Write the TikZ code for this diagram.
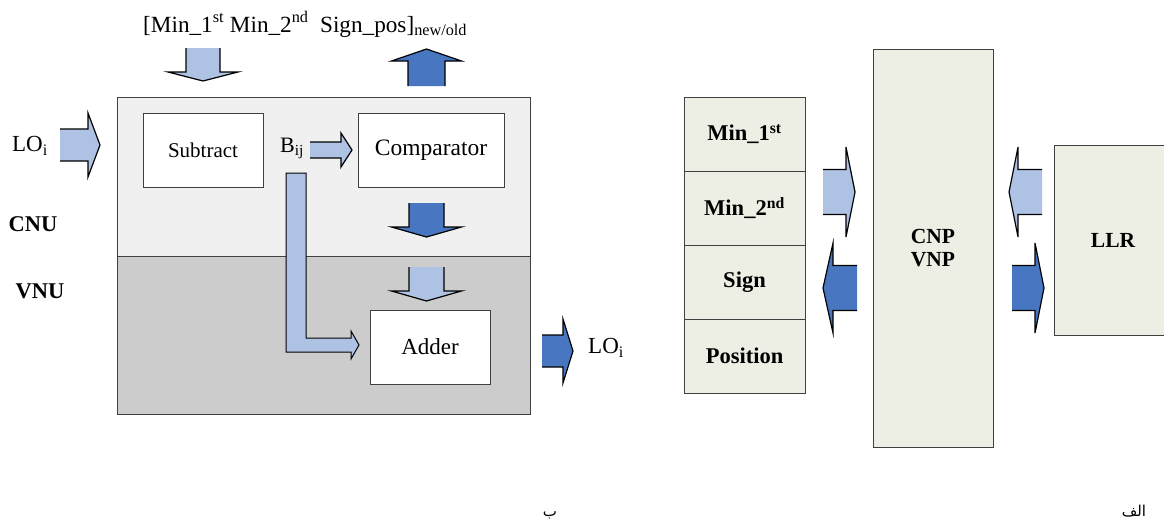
\documentclass[tikz,border=0pt]{standalone}
\usepackage{fontspec}
\setmainfont{Liberation Serif}
\newfontfamily\arabicfont[Script=Arabic]{DejaVu Sans}
\TeXXeTstate=1
\usetikzlibrary{positioning}
\definecolor{lightblue}{RGB}{174,194,228}
\definecolor{darkblue}{RGB}{72,118,192}
\definecolor{cnugray}{RGB}{240,240,240}
\definecolor{vnugray}{RGB}{204,204,204}
\definecolor{cellfill}{RGB}{238,239,228}
\tikzset{
  pics/blockarrow/.style n args={5}{code={
    \fill[#1] (0,-#4) -- (#2-#3,-#4) -- (#2-#3,-#5) -- (#2,0) -- (#2-#3,#5) -- (#2-#3,#4) -- (0,#4) -- cycle;
    \draw[line width=1.2pt] (0,-#4) -- (#2-#3,-#4) -- (#2-#3,-#5) -- (#2,0) -- (#2-#3,#5) -- (#2-#3,#4) -- (0,#4);
  }}
}

\begin{document}
\begin{tikzpicture}[x=1pt,y=-1pt,
    box/.style={draw=black!75,line width=0.8pt,inner sep=0pt,outer sep=0pt,anchor=north west},
    lbl/.style={inner sep=0pt,font=\fontsize{22}{24}\selectfont},
    bold/.style={inner sep=0pt,font=\fontsize{22.5}{24}\selectfont\bfseries}]
  \useasboundingbox (0,0) rectangle (1164,520);
  % left part
  \node[box,fill=cnugray,minimum width=413pt,minimum height=159pt] (cnu) at (117,97) {};
  \node[box,fill=vnugray,minimum width=413pt,minimum height=158pt] (vnu) at (117,256) {};
  \node[box,fill=white,minimum width=120pt,minimum height=74pt,font=\fontsize{21}{24}\selectfont] (sub) at (143,113) {Subtract};
  \node[box,fill=white,minimum width=146pt,minimum height=74pt,font=\fontsize{23.5}{24}\selectfont] (comp) at (358,113) {Comparator};
  \node[box,fill=white,minimum width=120pt,minimum height=74pt,font=\fontsize{23}{24}\selectfont] (adder) at (370,310) {Adder};
  \node[lbl,font=\fontsize{23.2}{24}\selectfont,anchor=base west] (minsign) at (143,32) {[Min\_1\textsuperscript{st} Min\_2\textsuperscript{nd}\ \ Sign\_pos]\textsubscript{new/old}};
  \node[lbl,font=\fontsize{23}{24}\selectfont] (loin) at (30,146) {LO\textsubscript{i}};
  \node[lbl,font=\fontsize{23}{24}\selectfont,anchor=west] (loout) at (588,348) {LO\textsubscript{i}};
  \node[lbl,anchor=west] (bij) at (280,148) {B\textsubscript{ij}};
  \node[bold] (cnulbl) at (33,224) {CNU};
  \node[bold] (vnulbl) at (40,291) {VNU};
  \pic[rotate=-90] at (203,48) {blockarrow={lightblue}{33}{9}{17}{35}};
  \pic[rotate=90] at (426.5,86) {blockarrow={darkblue}{37}{12}{18.5}{35}};
  \pic at (60,145) {blockarrow={lightblue}{40}{12}{16}{32}};
  \pic at (310,150) {blockarrow={lightblue}{42}{11}{8}{17}};
  \pic[rotate=-90] at (426.5,203) {blockarrow={darkblue}{34}{10}{17.5}{35}};
  \pic[rotate=-90] at (426.5,267) {blockarrow={lightblue}{34}{10}{17.5}{35}};
  \pic at (542,351) {blockarrow={darkblue}{31}{10}{16}{32}};
  \filldraw[fill=lightblue,line width=1pt] (286,173) -- (306,173) -- (306,338) -- (351,338) -- (351,331)
    -- (359,345) -- (351,359) -- (351,352) -- (286,352) -- cycle;
  % right part
  \foreach \txt [count=\i from 0] in {{Min\_1\textsuperscript{st}},{Min\_2\textsuperscript{nd}},{Sign},{Position}}
    \node[box,fill=cellfill,minimum width=121pt,minimum height=74pt,font=\fontsize{22.5}{24}\selectfont\bfseries] (row\i) at (684,{97+74*\i}) {\txt};
  \node[box,fill=cellfill,minimum width=120pt,minimum height=398pt,align=center,font=\fontsize{21.5}{23}\selectfont\bfseries] (cnp) at (873,49) {CNP\\VNP};
  \node[box,fill=cellfill,minimum width=120pt,minimum height=190pt,font=\fontsize{21.5}{24}\selectfont\bfseries] (llr) at (1054,145) {\hspace*{-2pt}LLR};
  \pic at (823,192) {blockarrow={lightblue}{32}{9}{22.5}{45}};
  \pic[rotate=180] at (857,288) {blockarrow={darkblue}{34}{10}{22.5}{45}};
  \pic[rotate=180] at (1042,192) {blockarrow={lightblue}{33}{9}{22.5}{45}};
  \pic at (1012,288) {blockarrow={darkblue}{32}{9}{22.5}{45}};
  % captions
  \node[inner sep=0pt,anchor=base,font=\arabicfont\fontsize{15}{18}\selectfont] (capb) at (550,516) {\beginR ب\endR};
  \node[inner sep=0pt,anchor=base,font=\arabicfont\fontsize{15}{18}\selectfont] (capa) at (1134,516) {\beginR الف\endR};
\end{tikzpicture}
\end{document}
